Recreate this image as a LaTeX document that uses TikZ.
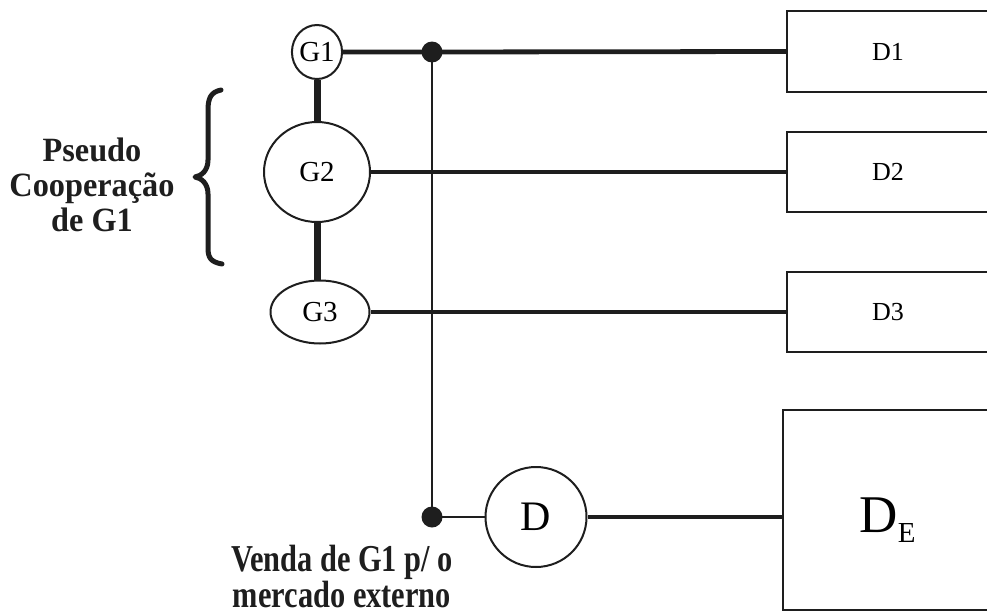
\documentclass[tikz,border=0pt]{standalone}
\usepackage{fontspec}
\setmainfont{Liberation Serif}
\newfontfamily\leftbold{Liberation Serif}[FakeStretch=0.95]
\newfontfamily\botbold{Liberation Serif}[FakeStretch=0.80]
\usetikzlibrary{shapes.geometric}
\definecolor{ink}{HTML}{1E1E1E}
\begin{document}
\begin{tikzpicture}[x=1pt,y=-1pt,
  gen/.style={ellipse, draw=ink, line width=2pt, inner sep=0pt, fill=white,
    font=\fontsize{29}{29}\selectfont},
  dembox/.style={rectangle, draw=ink, line width=2.2pt, inner sep=0pt,
    font=\fontsize{26}{26}\selectfont},
  heavy/.style={draw=ink, line width=7pt},
  feeder/.style={draw=ink, line width=4.8pt},
  thinline/.style={draw=ink, line width=2.6pt},
  junction/.style={circle, fill=ink, inner sep=0pt, minimum size=21pt},
  boldlabel/.style={align=center, inner sep=0pt, text=ink}
]
\useasboundingbox (0,0) rectangle (987,613);

% generators
\node[gen, minimum width=50pt, minimum height=54pt] (G1) at (317,52) {G1};
\node[gen, minimum width=106pt, minimum height=100pt] (G2) at (317,172) {G2};
\node[gen, minimum width=99pt, minimum height=63pt] (G3) at (320,312) {G3};

% demand boxes (right side runs off the page)
\node[dembox, minimum width=202pt, minimum height=81pt] (D1) at (888,51.5) {D1};
\node[dembox, minimum width=202pt, minimum height=80pt] (D2) at (888,172) {D2};
\node[dembox, minimum width=202pt, minimum height=80pt] (D3) at (888,312) {D3};
\node[rectangle, draw=ink, line width=2.2pt, inner sep=0pt,
      minimum width=209pt, minimum height=200pt] (DE) at (887.5,510)
      {\raisebox{-22pt}[0pt][0pt]{\fontsize{53}{53}\selectfont D\raisebox{-10pt}{\fontsize{29}{29}\selectfont E}}};

% export demand circle
\node[gen, minimum width=101pt, minimum height=100pt,
      font=\fontsize{42}{42}\selectfont] (D) at (536,517) {D};

% junctions
\node[junction] (J1) at (432,52) {};
\node[junction] (J2) at (432,517) {};

% vertical couplings between generators
\draw[heavy] (G1.south) -- (G2.north);
\draw[heavy] (G2.south) -- (G2.south |- G3.north);

% feeders
\draw[feeder] (G1.east) -- (J1.center) -- (D1.west);
\draw[feeder] (G2.east) -- (G2.east -| D2.west);
\draw[feeder] (G3.east) -- (G3.east -| D3.west);

% trunk to the external market
\draw[thinline] (J1.center) -- (J2.center);
\draw[thinline] (J2.center) -- (D.west);
\draw[draw=ink, line width=3.5pt] (D.east) -- (D.east -| DE.west);

% brace
\draw[draw=ink, line width=5pt, line cap=round, line join=round]
  (221,90) .. controls (211,92) and (208,98) .. (208,110)
  -- (208,160) .. controls (208,171) and (201,176) .. (195,177)
  .. controls (201,178) and (208,183) .. (208,194)
  -- (208,248) .. controls (208,258) and (211,262) .. (222,264);

% labels
\node[boldlabel, anchor=north,
      font=\leftbold\bfseries\fontsize{34}{35}\selectfont] (pseudo) at (92,138)
  {Pseudo\\Cooperação\\de G1};
\node[boldlabel, anchor=north,
      font=\botbold\bfseries\fontsize{38}{31}\selectfont] (venda) at (342,545)
  {Venda de G1 p/ o\\mercado externo};
\end{tikzpicture}
\end{document}
